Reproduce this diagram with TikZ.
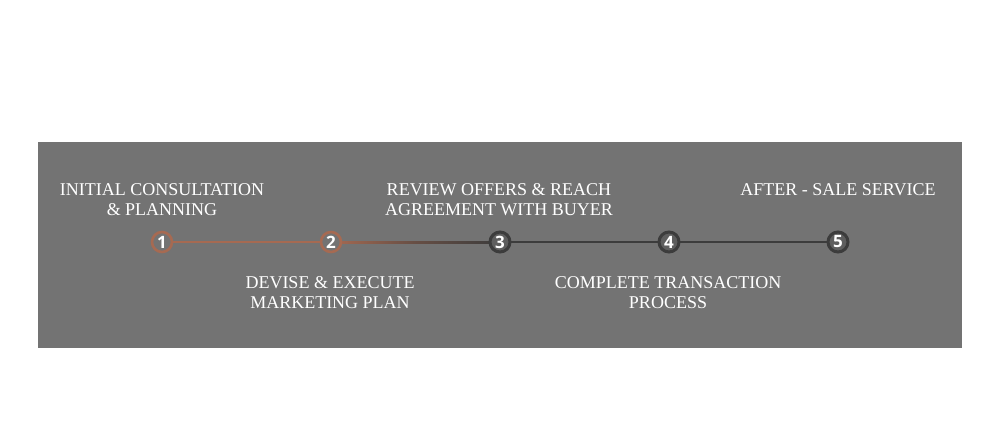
\documentclass[tikz,border=0pt]{standalone}
\usepackage{fontspec}
\setmainfont{Liberation Serif}
\newfontfamily\numfont{Open Sans}
\definecolor{bggray}{HTML}{737373}
\definecolor{rust}{HTML}{A66A52}
\definecolor{darkline}{HTML}{3C3C3C}
\definecolor{darkfill}{HTML}{5E5E5E}
\tikzset{
  stepdone/.style={circle, draw=rust, line width=2.6pt, fill=bggray, minimum size=20pt, inner sep=0pt,
     text=white, font=\numfont\bfseries\fontsize{17}{17}\selectfont},
  steptodo/.style={circle, draw=darkline, line width=3pt, fill=darkfill, minimum size=20pt, inner sep=0pt,
     text=white, font=\numfont\bfseries\fontsize{17}{17}\selectfont},
  label/.style={text=white, align=center, font=\fontsize{18}{20}\selectfont, inner sep=0pt}
}
\begin{document}
\begin{tikzpicture}[x=1pt,y=-1pt]
\useasboundingbox (0,0) rectangle (1000,428);
\fill[white] (0,0) rectangle (1000,428);
\fill[bggray] (38,142) rectangle (962,348);
% connectors (drawn under nodes)
\coordinate (c1) at (162,242);
\coordinate (c2) at (331,242);
\coordinate (c3) at (500,242);
\coordinate (c4) at (669,242);
\coordinate (c5) at (838,242);
\draw[rust, line width=2pt] (c1) -- (c2);
\shade[left color=rust, right color=darkline, middle color=darkline!60!rust] ([yshift=-1pt]c2) rectangle ([yshift=1pt]c3);
\draw[darkline, line width=2pt] (c3) -- (c4) -- (c5);
% step nodes
\node[stepdone] (s1) at (c1) {1};
\node[stepdone] (s2) at (c2) {2};
\node[steptodo] (s3) at (c3) {3};
\node[steptodo] (s4) at (c4) {4};
\node[steptodo] (s5) at (c5) {5};
% labels
\node[label, anchor=base] (l1) at (162,215) {INITIAL CONSULTATION\\\& PLANNING};
\node[label, anchor=base] (l3) at (499,215) {REVIEW OFFERS \& REACH\\AGREEMENT WITH BUYER};
\node[label, anchor=base] (l5) at (838,195) {AFTER - SALE SERVICE};
\node[label, anchor=base] (l2) at (330,308) {DEVISE \& EXECUTE\\MARKETING PLAN};
\node[label, anchor=base] (l4) at (668,308) {COMPLETE TRANSACTION\\PROCESS};
\end{tikzpicture}
\end{document}
